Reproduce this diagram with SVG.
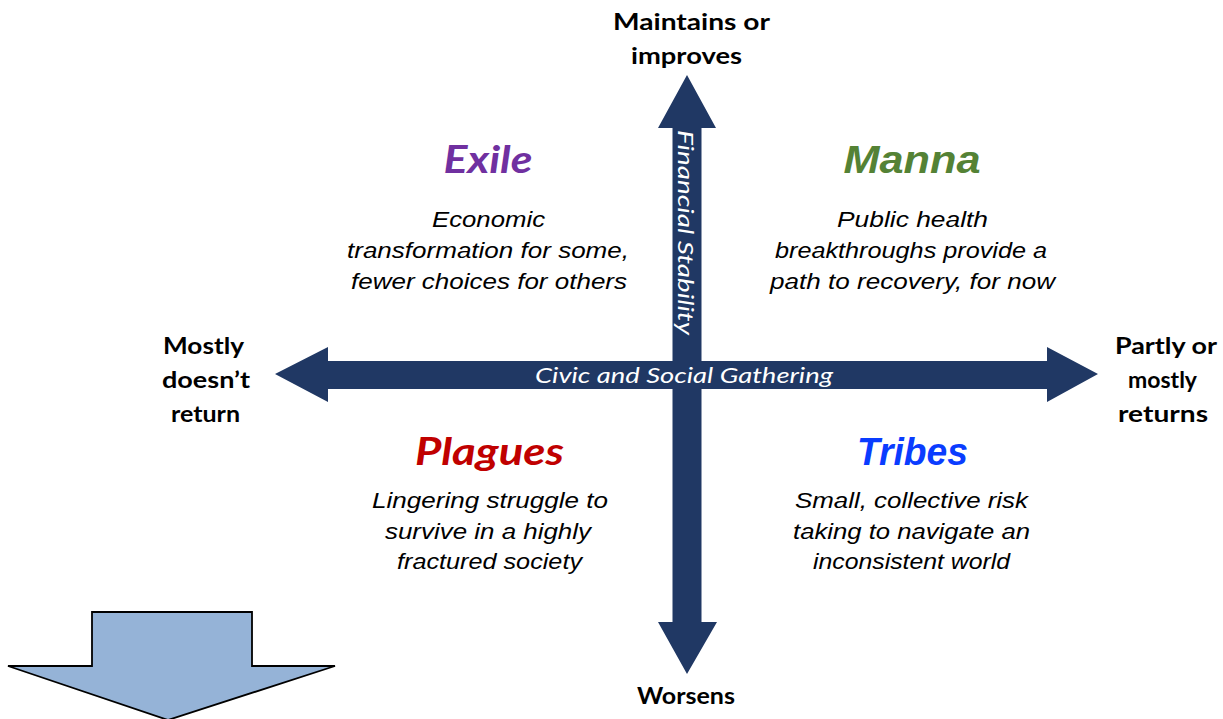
<svg xmlns="http://www.w3.org/2000/svg" width="1223" height="719" viewBox="0 0 1223 719">
<style>
.axis{fill:#203864}
.lbl{font-family:"Lato","Carlito",sans-serif;font-weight:bold;font-size:23px;fill:#000;text-anchor:middle}
.ax{font-family:"Lato","Carlito",sans-serif;font-style:italic;font-size:22px;fill:#fff;text-anchor:middle}
.tc{font-family:"Lato","Carlito",sans-serif;font-weight:bold;font-style:italic;font-size:38px;text-anchor:middle}
.ta{font-family:"Liberation Sans",Arial,sans-serif;font-weight:bold;font-style:italic;font-size:39px;text-anchor:middle}
.body{font-family:"Liberation Sans",Arial,sans-serif;font-style:italic;font-size:22px;fill:#000;text-anchor:middle}
</style>
<rect width="1223" height="719" fill="#fff"/>
<g id="connectors">
  <polygon class="axis" points="687,75 716,128 701.5,128 701.5,622 717,622 687,674 658,622 672.5,622 672.5,128 658,128"/>
  <polygon class="axis" points="275,374 328,347 328,361 1047,361 1047,347 1098,374 1047,402 1047,389 328,389 328,402"/>
  <text class="ax" x="684" y="382.5" textLength="298" lengthAdjust="spacingAndGlyphs">Civic and Social Gathering</text>
  <text class="ax" transform="translate(678,232.5) rotate(90)" x="0" y="0" textLength="205" lengthAdjust="spacingAndGlyphs">Financial Stability</text>
</g>
<g id="label-top">
  <text class="lbl" x="691.5" y="30" textLength="157" lengthAdjust="spacingAndGlyphs">Maintains or</text>
  <text class="lbl" x="686.5" y="64" textLength="111" lengthAdjust="spacingAndGlyphs">improves</text>
</g>
<g id="label-bottom">
  <text class="lbl" x="686" y="703.5" textLength="98" lengthAdjust="spacingAndGlyphs">Worsens</text>
</g>
<g id="label-left">
  <text class="lbl" x="203.5" y="353.5" textLength="81" lengthAdjust="spacingAndGlyphs">Mostly</text>
  <text class="lbl" x="206" y="388" textLength="88" lengthAdjust="spacingAndGlyphs">doesn’t</text>
  <text class="lbl" x="205.5" y="422" textLength="69" lengthAdjust="spacingAndGlyphs">return</text>
</g>
<g id="label-right">
  <text class="lbl" x="1166" y="353.5" textLength="102" lengthAdjust="spacingAndGlyphs">Partly or</text>
  <text class="lbl" x="1162.5" y="388" textLength="69" lengthAdjust="spacingAndGlyphs">mostly</text>
  <text class="lbl" x="1163" y="422" textLength="90" lengthAdjust="spacingAndGlyphs">returns</text>
</g>
<g id="exile">
  <text class="tc" x="488" y="173" fill="#7030A0" textLength="89" lengthAdjust="spacingAndGlyphs">Exile</text>
  <text class="body" x="488.5" y="227" textLength="113" lengthAdjust="spacingAndGlyphs">Economic</text>
  <text class="body" x="488" y="258" textLength="282" lengthAdjust="spacingAndGlyphs">transformation for some,</text>
  <text class="body" x="489" y="288.5" textLength="276" lengthAdjust="spacingAndGlyphs">fewer choices for others</text>
</g>
<g id="manna">
  <text class="ta" x="912" y="173" fill="#548235" textLength="137" lengthAdjust="spacingAndGlyphs">Manna</text>
  <text class="body" x="912.5" y="227" textLength="151" lengthAdjust="spacingAndGlyphs">Public health</text>
  <text class="body" x="911" y="258" textLength="272" lengthAdjust="spacingAndGlyphs">breakthroughs provide a</text>
  <text class="body" x="912.5" y="288.5" textLength="285" lengthAdjust="spacingAndGlyphs">path to recovery, for now</text>
</g>
<g id="plagues">
  <text class="tc" x="489.5" y="465" fill="#C00000" textLength="149" lengthAdjust="spacingAndGlyphs">Plagues</text>
  <text class="body" x="490" y="508" textLength="236" lengthAdjust="spacingAndGlyphs">Lingering struggle to</text>
  <text class="body" x="488" y="538.5" textLength="206" lengthAdjust="spacingAndGlyphs">survive in a highly</text>
  <text class="body" x="489.5" y="569" textLength="185" lengthAdjust="spacingAndGlyphs">fractured society</text>
</g>
<g id="tribes">
  <text class="ta" x="912.5" y="465" fill="#0A3CFF" textLength="111" lengthAdjust="spacingAndGlyphs">Tribes</text>
  <text class="body" x="911.5" y="508" textLength="233" lengthAdjust="spacingAndGlyphs">Small, collective risk</text>
  <text class="body" x="911.5" y="538.5" textLength="237" lengthAdjust="spacingAndGlyphs">taking to navigate an</text>
  <text class="body" x="911.5" y="569" textLength="197" lengthAdjust="spacingAndGlyphs">inconsistent world</text>
</g>
<g id="down-arrow">
  <polygon points="92,612 252,612 252,666 335,666 168,720 8,666 92,666" fill="#95B3D7" stroke="#000" stroke-width="1.8" stroke-linejoin="miter"/>
</g>
</svg>
